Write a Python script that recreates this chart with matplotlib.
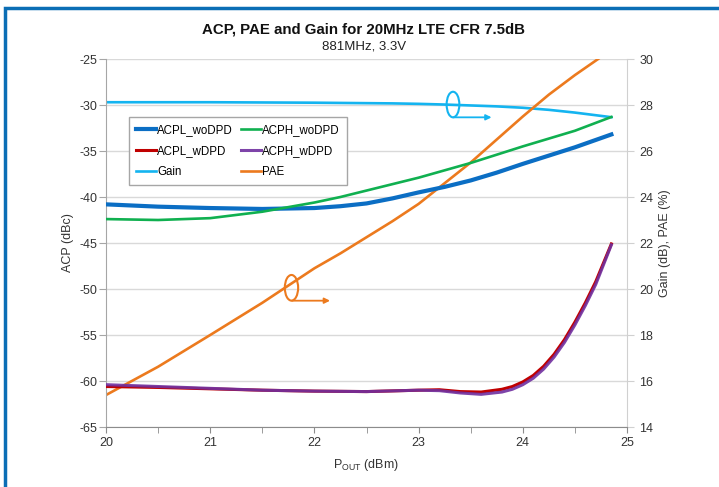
import matplotlib
matplotlib.use("Agg")
import matplotlib.pyplot as plt
from matplotlib.patches import Ellipse, Rectangle

plt.rcParams['font.family'] = ['Liberation Sans', 'DejaVu Sans']
plt.rcParams['axes.unicode_minus'] = False

# Data
x_wo = [20.0, 20.5, 21.0, 21.5, 22.0, 22.25, 22.5, 22.75, 23.0, 23.25, 23.5, 23.75, 24.0, 24.25, 24.5, 24.85]
acpl_wodpd = [-40.8, -41.05, -41.2, -41.3, -41.2, -41.0, -40.7, -40.15, -39.5, -38.9, -38.2, -37.35, -36.4,
              -35.5, -34.6, -33.2]
acph_wodpd = [-42.4, -42.5, -42.3, -41.6, -40.6, -40.0, -39.3, -38.6, -37.9, -37.1, -36.3, -35.4, -34.5,
              -33.65, -32.8, -31.3]
gain = [28.12, 28.12, 28.12, 28.11, 28.1, 28.09, 28.08, 28.07, 28.05, 28.02, 27.98, 27.94, 27.88, 27.79,
        27.67, 27.47]
pae = [15.39, 16.62, 18.0, 19.4, 20.9, 21.55, 22.25, 22.95, 23.7, 24.6, 25.5, 26.5, 27.5, 28.45, 29.3, 30.4]

x_w = [20.0, 20.5, 21.0, 21.5, 22.0, 22.5, 23.0, 23.2, 23.4, 23.6, 23.8, 23.9, 24.0, 24.1,
       24.2, 24.3, 24.4, 24.5, 24.6, 24.7, 24.85]
acpl_wdpd = [-60.6, -60.7, -60.85, -61.0, -61.1, -61.15, -61.0, -60.95, -61.15, -61.2, -60.9, -60.6,
             -60.1, -59.4, -58.4, -57.1, -55.5, -53.6, -51.5, -49.2, -45.1]
acph_wdpd = [-60.4, -60.6, -60.8, -61.0, -61.1, -61.15, -61.0, -61.05, -61.3, -61.45, -61.2, -60.9,
             -60.4, -59.7, -58.7, -57.4, -55.8, -53.9, -51.8, -49.5, -45.2]

x_ticks = [20, 21, 22, 23, 24, 25]
left_ticks = [-25, -30, -35, -40, -45, -50, -55, -60, -65]
right_ticks = [14, 16, 18, 20, 22, 24, 26, 28, 30]

fig = plt.figure(figsize=(7.19, 4.87), dpi=100)
# blue border
fig.patches.append(Rectangle((4.5 / 719, -0.1), 1.2, 1 - 7.5 / 487 + 0.1, transform=fig.transFigure,
                             fill=False, edgecolor='#0B6EB5', linewidth=2.5, zorder=0))

ax = fig.add_axes([106 / 719, 1 - 427 / 487, 521 / 719, 368 / 487])
ax2 = ax.twinx()

ax.set_xlim(20, 25)
ax.set_ylim(-65, -25)
ax2.set_ylim(14, 30)

ax.set_xticks(x_ticks)
ax.set_xticks([20.5, 21.5, 22.5, 23.5, 24.5], minor=True)
ax.set_yticks(left_ticks)
ax2.set_yticks(right_ticks)

grid_c = '#D9D9D9'

ax.spines['top'].set_visible(False)
ax2.spines['top'].set_visible(False)
ax.spines['right'].set_visible(False)
ax.spines['left'].set_color('#A6A6A6')
ax.spines['bottom'].set_color('#8C8C8C')
ax2.spines['right'].set_color('#D0D0D0')
ax2.spines['left'].set_visible(False)
ax2.spines['bottom'].set_visible(False)

ax.tick_params(axis='x', which='both', length=4, color='#8C8C8C', labelsize=9, labelcolor='#333333', pad=3)
ax.tick_params(axis='y', length=5, color='#A6A6A6', labelsize=9, labelcolor='#333333', pad=1)
ax2.tick_params(axis='y', length=5, color='#D0D0D0', labelsize=9, labelcolor='#333333', pad=4)

# ax2 (gain/PAE) below, ax (ACP) on top
ax2.set_zorder(1)
ax.set_zorder(2)
ax.patch.set_visible(False)
ax2.patch.set_visible(True)
ax2.patch.set_facecolor('white')
ax2.set_xticks(x_ticks)
ax2.set_xticks([20.5, 21.5, 22.5, 23.5, 24.5], minor=True)
ax2.grid(True, which='both', axis='x', color=grid_c, linewidth=1.0)
ax2.grid(True, which='major', axis='y', color=grid_c, linewidth=1.0)
ax2.set_axisbelow(True)

l1, = ax.plot(x_wo, acpl_wodpd, color='#0B6EC4', lw=3.0, label='ACPL_woDPD', zorder=3)
l2, = ax.plot(x_wo, acph_wodpd, color='#10B050', lw=1.9, label='ACPH_woDPD', zorder=3)
l3, = ax.plot(x_w, acpl_wdpd, color='#C00000', lw=2.2, label='ACPL_wDPD', zorder=3)
l4, = ax.plot(x_w, acph_wdpd, color='#7030A0', lw=2.2, label='ACPH_wDPD', zorder=3, alpha=0.9)
l5, = ax2.plot(x_wo, gain, color='#14B4F0', lw=1.9, label='Gain', zorder=3)
l6, = ax2.plot(x_wo, pae, color='#EC7A1E', lw=1.9, label='PAE', zorder=3)

leg = ax.legend(handles=[l1, l3, l5, l2, l4, l6], ncol=2, loc='upper left',
                bbox_to_anchor=(23 / 521, (427 - 117) / 368), fontsize=8.3,
                frameon=True, fancybox=False, edgecolor='#A6A6A6', framealpha=1,
                handlelength=1.7, handletextpad=0.15, columnspacing=0.7,
                labelspacing=0.8, borderpad=0.6, borderaxespad=0)
leg.get_frame().set_linewidth(1.0)
leg.set_zorder(10)

# annotations (ellipses + arrows)
ax.add_patch(Ellipse((23.33, -29.95), 0.122, 2.78, fill=False, edgecolor='#14B4F0', lw=1.5, zorder=4))
ax.annotate('', xy=(23.70, -31.34), xytext=(23.335, -31.34),
            arrowprops=dict(arrowstyle='-|>', color='#14B4F0', lw=1.3, mutation_scale=8,
                            shrinkA=0, shrinkB=0), zorder=4)
ax.add_patch(Ellipse((21.78, -49.87), 0.128, 2.79, fill=False, edgecolor='#EC7A1E', lw=1.5, zorder=4))
ax.annotate('', xy=(22.15, -51.27), xytext=(21.785, -51.27),
            arrowprops=dict(arrowstyle='-|>', color='#EC7A1E', lw=1.3, mutation_scale=8,
                            shrinkA=0, shrinkB=0), zorder=4)

ax.set_ylabel('ACP (dBc)', fontsize=9, color='#333333', labelpad=4)
ax2.set_ylabel('Gain (dB), PAE (%)', fontsize=9, color='#333333', labelpad=4)
ax.set_xlabel('P$_{\\mathregular{OUT}}$ (dBm)', fontsize=9, color='#333333', labelpad=6)

fig.text(364 / 719, 1 - 29 / 487, 'ACP, PAE and Gain for 20MHz LTE CFR 7.5dB', ha='center', va='center',
         fontsize=10.8, fontweight='bold', color='#111111')
fig.text(364 / 719, 1 - 46.5 / 487, '881MHz, 3.3V', ha='center', va='center', fontsize=9.5, color='#222222')

fig.savefig('out.png', dpi=100)
